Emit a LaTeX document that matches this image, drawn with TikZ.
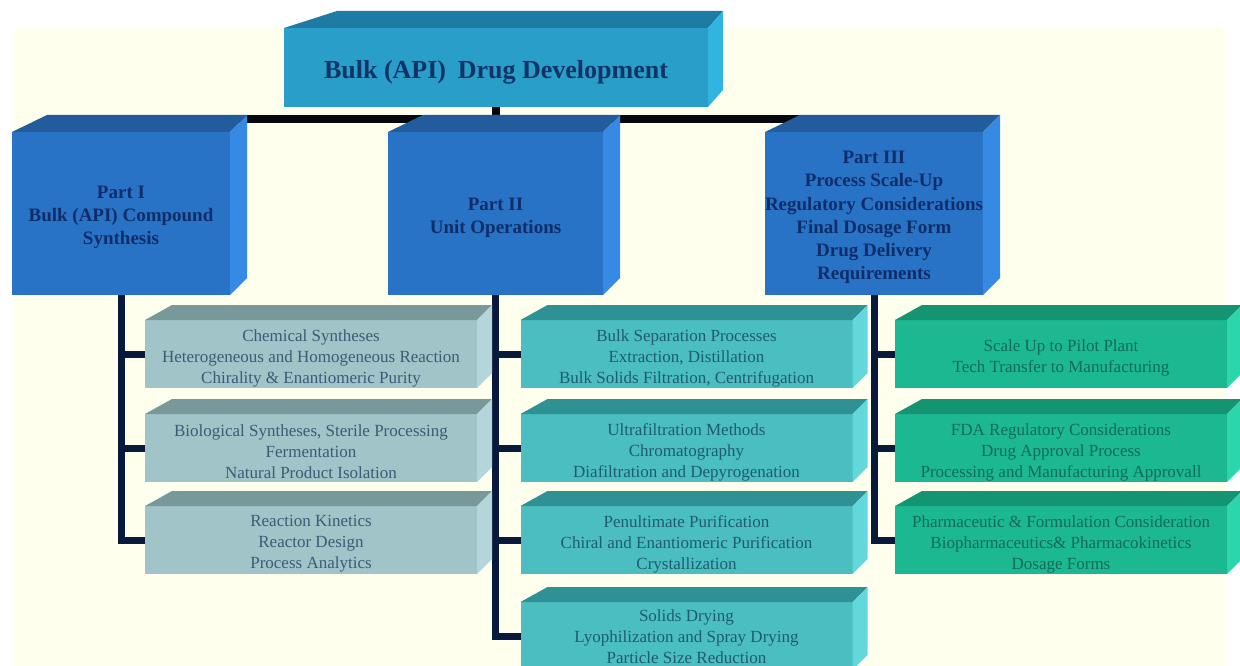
\documentclass[tikz,border=0pt]{standalone}
\usepackage{fontspec}
\setmainfont{Liberation Serif}
\usetikzlibrary{calc}
\pgfdeclarelayer{bg}
\pgfdeclarelayer{wires}
\pgfsetlayers{bg,wires,main}

% palette
\definecolor{paper}{RGB}{255,255,238}
\definecolor{titleF}{RGB}{41,158,200}
\definecolor{titleTop}{RGB}{30,124,164}
\definecolor{titleSide}{RGB}{50,180,224}
\definecolor{titleT}{RGB}{16,52,104}
\definecolor{partF}{RGB}{41,115,198}
\definecolor{partTop}{RGB}{34,92,156}
\definecolor{partSide}{RGB}{54,138,228}
\definecolor{partT}{RGB}{15,45,105}
\definecolor{cAF}{RGB}{160,196,200}
\definecolor{cATop}{RGB}{120,152,154}
\definecolor{cASide}{RGB}{180,214,218}
\definecolor{cAT}{RGB}{58,92,118}
\definecolor{cBF}{RGB}{74,190,192}
\definecolor{cBTop}{RGB}{46,146,148}
\definecolor{cBSide}{RGB}{98,216,220}
\definecolor{cBT}{RGB}{30,92,114}
\definecolor{cCF}{RGB}{28,184,146}
\definecolor{cCTop}{RGB}{20,148,112}
\definecolor{cCSide}{RGB}{44,214,172}
\definecolor{cCT}{RGB}{16,108,88}
\definecolor{busC}{RGB}{6,8,14}
\definecolor{stubC}{RGB}{8,26,60}

\tikzset{
  face/.style={inner sep=0pt, outer sep=0pt},
  caption/.style={inner sep=0pt, outer sep=0pt, align=center},
  titlebox/.style={face, fill=titleF, minimum width=424pt, minimum height=79pt},
  titletext/.style={caption, text=titleT, font=\fontsize{26}{30}\selectfont\bfseries},
  partbox/.style={face, fill=partF, minimum height=163pt},
  parttext/.style={caption, text=partT, font=\fontsize{19}{23.2}\selectfont\bfseries},
  subbox/.style={face, minimum width=332pt, minimum height=68pt},
  subtext/.style={caption, font=\fontsize{17}{21}\selectfont},
  chembox/.style={subbox, fill=cAF},
  unitbox/.style={subbox, fill=cBF},
  scalebox/.style={subbox, fill=cCF},
  bus/.style={draw=busC, line width=8pt},
  stub/.style={draw=stubC, line width=7pt},
}

% top and side faces of a box: node, left depth, right depth, rise, top colour, side colour
\newcommand\boxfaces[6]{%
  \fill[#5] (#1.north west) -- ++(#2,-#4) -- ($(#1.north east)+(#3,-#4)$) -- (#1.north east) -- cycle;
  \fill[#6] (#1.north east) -- ++(#3,-#4) -- ($(#1.south east)+(#3,-#4)$) -- (#1.south east) -- cycle;
}

\begin{document}
\begin{tikzpicture}[x=1pt, y=-1pt]
\useasboundingbox (0,0) rectangle (1240,666);

\begin{pgfonlayer}{bg}
  \fill[white] (0,0) rectangle (1240,666);
  \fill[paper] (14,28) rectangle (1225,666);
\end{pgfonlayer}

% title
\node[titlebox] (title) at (496,67.5) {};
\boxfaces{title}{53}{15}{17}{titleTop}{titleSide}
\node[titletext] (titleT) at ($(title.center)+(0,5)$) {Bulk (API)\hspace{0.45em}Drug Development};

% the three parts
\node[partbox, minimum width=218pt] (p1) at (121,213.5) {};
\node[partbox, minimum width=215pt] (p2) at (495.5,213.5) {};
\node[partbox, minimum width=218pt] (p3) at (874,213.5) {};
\foreach \p in {p1,p2,p3} {\boxfaces{\p}{35}{17}{17}{partTop}{partSide}}
\node[parttext] (p1T) at ($(p1.center)+(0,4)$)
  {Part I\\Bulk (API) Compound\\Synthesis};
\node[parttext] (p2T) at ($(p2.center)+(0,4)$)
  {Part II\\Unit Operations};
\node[parttext] (p3T) at ($(p3.center)+(0,4)$)
  {Part III\\Process Scale-Up\\Regulatory Considerations\\Final Dosage Form\\Drug Delivery\\Requirements};

% part I topics
\node[chembox] (a1) at (311,354) {};
\node[chembox] (a2) at (311,448) {};
\node[chembox] (a3) at (311,540) {};
\foreach \s in {a1,a2,a3} {\boxfaces{\s}{27}{15}{15}{cATop}{cASide}}
\node[subtext, text=cAT] (a1T) at ($(a1.center)+(0,4)$)
  {Chemical Syntheses\\Heterogeneous and Homogeneous Reaction\\Chirality \& Enantiomeric Purity};
\node[subtext, text=cAT] (a2T) at ($(a2.center)+(0,4)$)
  {Biological Syntheses, Sterile Processing\\Fermentation\\Natural Product Isolation};
\node[subtext, text=cAT] (a3T) at ($(a3.center)+(0,4)$)
  {Reaction Kinetics\\Reactor Design\\Process Analytics};

% part II topics
\node[unitbox] (b1) at (686.5,354) {};
\node[unitbox] (b2) at (686.5,448) {};
\node[unitbox] (b3) at (686.5,540) {};
\node[unitbox] (b4) at (686.5,636) {};
\foreach \s in {b1,b2,b3,b4} {\boxfaces{\s}{27}{15}{15}{cBTop}{cBSide}}
\node[subtext, text=cBT] (b1T) at ($(b1.center)+(0,4)$)
  {Bulk Separation Processes\\Extraction, Distillation\\Bulk Solids Filtration, Centrifugation};
\node[subtext, text=cBT] (b2T) at ($(b2.center)+(0,4)$)
  {Ultrafiltration Methods\\Chromatography\\Diafiltration and Depyrogenation};
\node[subtext, text=cBT] (b3T) at ($(b3.center)+(0,4)$)
  {Penultimate Purification\\Chiral and Enantiomeric Purification\\Crystallization};
\node[subtext, text=cBT] (b4T) at ($(b4.center)+(0,1)$)
  {Solids Drying\\Lyophilization and Spray Drying\\Particle Size Reduction};

% part III topics
\node[scalebox] (c1) at (1061,354) {};
\node[scalebox] (c2) at (1061,448) {};
\node[scalebox] (c3) at (1061,540) {};
\foreach \s in {c1,c2,c3} {\boxfaces{\s}{27}{15}{15}{cCTop}{cCSide}}
\node[subtext, text=cCT] (c1T) at ($(c1.center)+(0,4)$)
  {Scale Up to Pilot Plant\\Tech Transfer to Manufacturing};
\node[subtext, text=cCT] (c2T) at ($(c2.center)+(0,4)$)
  {FDA Regulatory Considerations\\Drug Approval Process\\Processing and Manufacturing Approvall};
\node[subtext, text=cCT] (c3T) at ($(c3.center)+(0,4)$)
  {Pharmaceutic \& Formulation Consideration\\Biopharmaceutics\& Pharmacokinetics\\Dosage Forms};

% connectors
\begin{pgfonlayer}{wires}
  \coordinate (hub) at (title.south |- 0,119);
  \draw[bus] (title.south) -- (hub);
  \draw[bus] (p1.north) -- (p1.north |- hub) -- (p3.north |- hub) -- (p3.north);
  \foreach \s in {a1,a2,a3} {\draw[stub] (p1.south) |- (\s.west);}
  \foreach \s in {b1,b2,b3,b4} {\draw[stub] (p2.south) |- (\s.west);}
  \foreach \s in {c1,c2,c3} {\draw[stub] (p3.south) |- (\s.west);}
\end{pgfonlayer}
\end{tikzpicture}
\end{document}
